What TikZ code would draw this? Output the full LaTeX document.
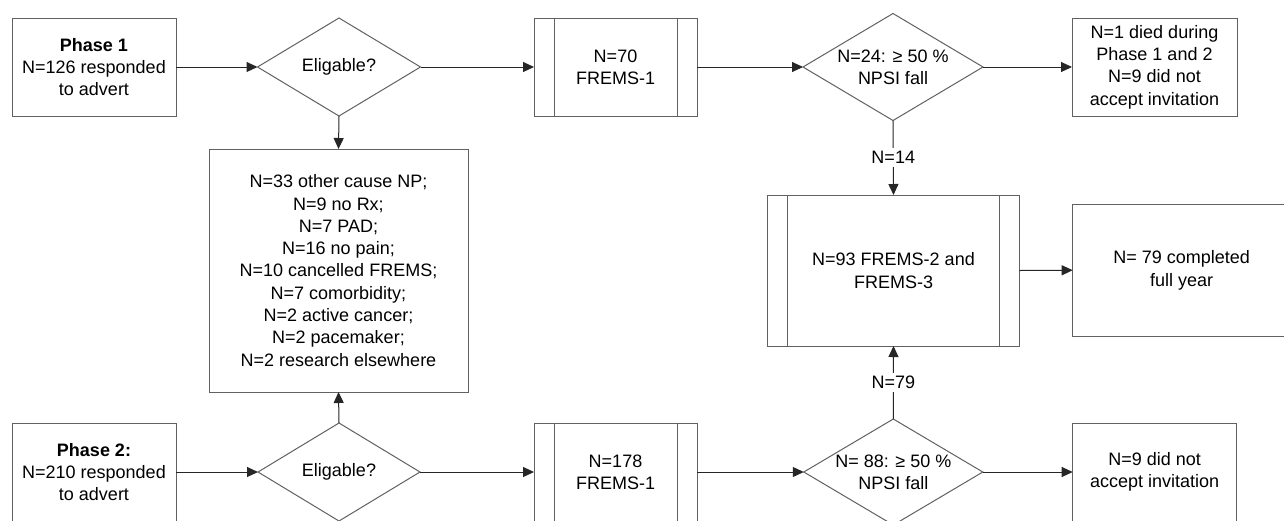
\documentclass[tikz,border=0pt]{standalone}
\usepackage{fontspec}
\setmainfont{Liberation Sans}
\usetikzlibrary{shapes.geometric,arrows.meta}
\newcommand{\fsz}{\fontsize{18}{22.3}\selectfont}
\begin{document}
\begin{tikzpicture}[x=1pt,y=-1pt,
  shp/.style={draw=black!62, line width=1pt, outer sep=0pt, inner sep=0pt, font=\fsz, align=center},
  box/.style={shp, rectangle},
  pbox/.style={shp, rectangle},
  dia/.style={shp, diamond},
  txt/.style={inner sep=0pt, outer sep=0pt, font=\fsz, align=center},
  arr/.style={draw=black!85, line width=1pt, -{Triangle[length=11pt,width=10pt]}},
  lbl/.style={fill=white, inner sep=3.5pt, font=\fsz},
  sidebar/.style={draw=black!62, line width=1pt}
]
\useasboundingbox (0,0) rectangle (1284,520);
\fill[white] (0,0) rectangle (1284,520);

% top row
\node[box, minimum width=164pt, minimum height=98pt] (p1) at (94,67) {\textbf{Phase 1}\\N=126 responded\\to advert};
\node[dia, minimum width=163pt, minimum height=98pt] (e1) at (339,67) {};
\node[txt] (te1) at (e1.center) {Eligable?};
\node[pbox, minimum width=163pt, minimum height=98pt] (f1) at (615.5,67) {N=70\\FREMS-1};
\node[dia, minimum width=180pt, minimum height=107pt] (n1) at (893,67) {};
\node[txt] (tn1) at (n1.center) {N=24: ≥ 50 \%\\NPSI fall};
\node[box, minimum width=165pt, minimum height=98pt] (r1) at (1154.5,67) {N=1 died during\\Phase 1 and 2\\N=9 did not\\accept invitation};

% middle
\node[box, minimum width=259pt, minimum height=243pt] (x) at (338.5,270.5) {N=33 other cause NP;\\N=9 no Rx;\\N=7 PAD;\\N=16 no pain;\\N=10 cancelled FREMS;\\N=7 comorbidity;\\N=2 active cancer;\\N=2 pacemaker;\\N=2 research elsewhere};
\node[pbox, minimum width=251.6pt, minimum height=151pt] (f2) at (893.5,270.5) {N=93 FREMS-2 and\\FREMS-3};
\node[box, minimum width=218pt, minimum height=132pt] (c) at (1181.7,270.2) {N= 79 completed\\full year};

% bottom row
\node[box, minimum width=164pt, minimum height=98pt] (p2) at (94,472) {\textbf{Phase 2:}\\N=210 responded\\to advert};
\node[dia, minimum width=162pt, minimum height=98pt] (e2) at (339,472) {};
\node[txt] (te2) at (e2.center) {Eligable?};
\node[pbox, minimum width=163pt, minimum height=98pt] (f3) at (615.5,472) {N=178\\FREMS-1};
\node[dia, minimum width=179pt, minimum height=106pt] (n2) at (893.3,472) {};
\node[txt] (tn2) at (n2.center) {N= 88: ≥ 50 \%\\NPSI fall};
\node[box, minimum width=164pt, minimum height=98pt] (r2) at (1154.7,472) {N=9 did not\\accept invitation};

% side bars of predefined process boxes
\foreach \n in {f1,f2,f3}{
  \draw[sidebar] ([xshift=20pt]\n.north west) -- ([xshift=20pt]\n.south west);
  \draw[sidebar] ([xshift=-20pt]\n.north east) -- ([xshift=-20pt]\n.south east);
}

% connectors
\draw[arr] (p1.east) -- (e1.west);
\draw[arr] (e1.east) -- (f1.west);
\draw[arr] (f1.east) -- (n1.west);
\draw[arr] (n1.east) -- (r1.west);
\draw[arr] (e1.south) -- (x.north);
\draw[arr] (e2.north) -- (x.south);
\draw[arr] (n1.south) -- node[lbl] (l14) {N=14} (f2.north);
\draw[arr] (n2.north) -- node[lbl] (l79) {N=79} (f2.south);
\draw[arr] (f2.east) -- (c.west);
\draw[arr] (p2.east) -- (e2.west);
\draw[arr] (e2.east) -- (f3.west);
\draw[arr] (f3.east) -- (n2.west);
\draw[arr] (n2.east) -- (r2.west);
\end{tikzpicture}
\end{document}
